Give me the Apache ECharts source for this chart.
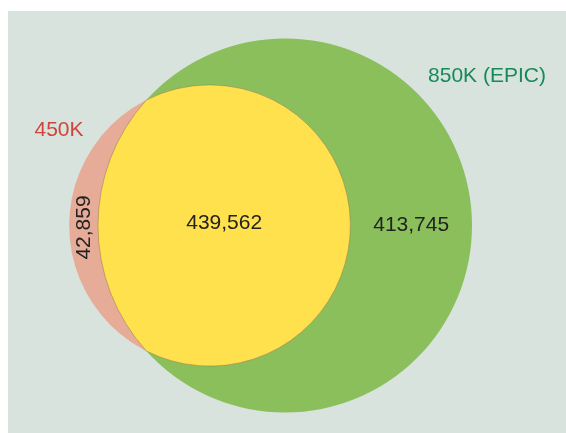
<!DOCTYPE html>
<html><head><meta charset="utf-8">
<script src="https://cdn.jsdelivr.net/npm/echarts@6/dist/echarts.min.js"></script>
<style>html,body{margin:0;padding:0;background:#fff}#c{width:566px;height:433px}</style>
</head><body><div id="c"></div>
<script>
// ---- data ----
const setNames = ['450K', '850K (EPIC)'];
const regionNames = ['450K only', 'Both', 'EPIC only'];
const regionValues = [42859, 439562, 413745];

// ---- layout / style constants ----
const AREA_SCALE = 0.12874;      // px^2 per probe
const BIG_CX = 285, CY = 225.5;  // centre of the EPIC circle
const FONT = '21px "Liberation Sans", Arial, Helvetica, sans-serif';
const COLORS = { bg: '#d7e3dc', a: '#e6ac98', b: '#8bbf5c', both: '#ffe14d',
                 nameA: '#d0453b', nameB: '#178a5c', text: '#222222' };

function lensArea(r1, r2, d) {
  if (d >= r1 + r2) return 0;
  if (d <= Math.abs(r1 - r2)) return Math.PI * Math.min(r1, r2) ** 2;
  const a1 = Math.acos((d * d + r1 * r1 - r2 * r2) / (2 * d * r1));
  const a2 = Math.acos((d * d + r2 * r2 - r1 * r1) / (2 * d * r2));
  const k = Math.sqrt((-d + r1 + r2) * (d + r1 - r2) * (d - r1 + r2) * (d + r1 + r2));
  return r1 * r1 * a1 + r2 * r2 * a2 - 0.5 * k;
}

const totalA = regionValues[0] + regionValues[1];
const totalB = regionValues[1] + regionValues[2];
const rA = Math.sqrt(totalA * AREA_SCALE / Math.PI);
const rB = Math.sqrt(totalB * AREA_SCALE / Math.PI);
const target = regionValues[1] * AREA_SCALE;
let lo = Math.abs(rA - rB), hi = rA + rB;
for (let i = 0; i < 80; i++) {
  const m = (lo + hi) / 2;
  if (lensArea(rA, rB, m) > target) lo = m; else hi = m;
}
const dist = (lo + hi) / 2;
const cxB = BIG_CX, cxA = BIG_CX - dist;
// intersection points
const xi = (dist * dist + rA * rA - rB * rB) / (2 * dist); // from A centre toward B
const hI = Math.sqrt(rA * rA - xi * xi);
const ix = cxA + xi;

const fmt = v => v.toLocaleString('en-US');

function renderItem(params, api) {
  const c = (x, y) => api.coord([x, y]);
  const s = r => api.size([r, 0])[0];
  const pB = c(cxB, CY), pA = c(cxA, CY);
  const RB = s(rB), RA = s(rA);
  const t = c(ix, CY - hI), b = c(ix, CY + hI);
  const lens = `M${t[0]},${t[1]} A${RB},${RB} 0 0 0 ${b[0]},${b[1]} A${RA},${RA} 0 1 0 ${t[0]},${t[1]} Z`;
  const lensL = cxB - rB, lensR = cxA + rA;
  const lbBoth = c((lensL + lensR) / 2, CY - 2.5);
  const lbB = c((lensR + cxB + rB) / 2, CY);
  const lbA = c((cxA - rA + lensL) / 2 + 0.5, CY + 2);
  const txt = (p, text, fill, rot) => ({
    type: 'text', x: p[0], y: p[1], rotation: rot || 0,
    style: { text, x: 0, y: 0, fill, font: FONT, align: 'center', verticalAlign: 'middle' }
  });
  return {
    type: 'group',
    children: [
      { type: 'circle', shape: { cx: pB[0], cy: pB[1], r: RB }, style: { fill: COLORS.b } },
      { type: 'circle', shape: { cx: pA[0], cy: pA[1], r: RA }, style: { fill: COLORS.a } },
      { type: 'path', shape: { pathData: lens },
        style: { fill: COLORS.both, stroke: 'rgba(130,110,70,0.55)', lineWidth: 0.8 } },
      txt(lbBoth, fmt(regionValues[1]), COLORS.text),
      txt(lbB, fmt(regionValues[2]), COLORS.text),
      txt(lbA, fmt(regionValues[0]), COLORS.text, Math.PI / 2),
      txt(c(59, 130.5), setNames[0], COLORS.nameA),
      txt(c(487, 76), setNames[1], COLORS.nameB)
    ]
  };
}

const chart = echarts.init(document.getElementById('c'), null, { renderer: 'canvas' });
chart.setOption({
  animation: false,
  backgroundColor: '#ffffff',
  grid: { left: 8, top: 11, right: 0, bottom: 0, show: true, backgroundColor: COLORS.bg, borderWidth: 0 },
  xAxis: { type: 'value', min: 8, max: 566, show: false },
  yAxis: { type: 'value', min: 11, max: 433, inverse: true, show: false },
  series: [{ type: 'custom', renderItem, data: [[0]], silent: true, clip: false }]
});
</script></body></html>
